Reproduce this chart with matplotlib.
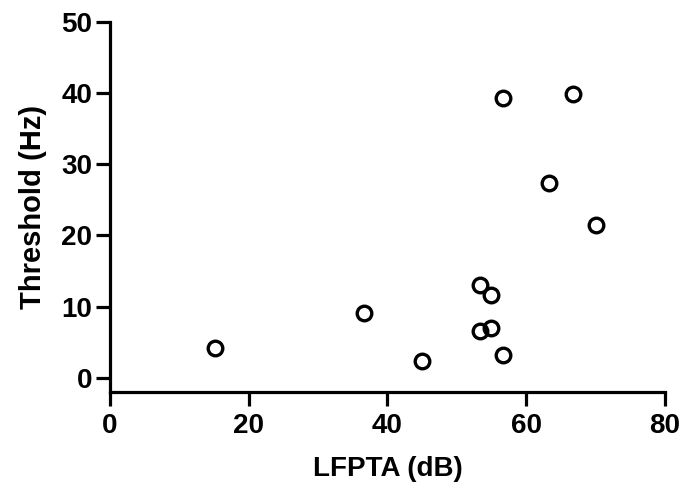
import matplotlib.pyplot as plt

plt.rcParams['font.family'] = ['Liberation Sans', 'DejaVu Sans']
plt.rcParams['font.weight'] = 'bold'

# LFPTA (dB) vs threshold (Hz)
lfpta = [15.1, 36.6, 45.0, 53.3, 53.3, 55.0, 55.0, 56.6, 56.6, 63.3, 66.7, 70.0]
threshold = [4.2, 9.1, 2.4, 13.0, 6.6, 11.6, 7.0, 3.2, 39.3, 27.3, 39.8, 21.5]

fig = plt.figure(figsize=(6.84, 4.91), dpi=100)
ax = fig.add_axes([0.161, 0.2016, 0.811, 0.7544])

ax.plot(lfpta, threshold, 'o', markersize=10.5, markerfacecolor='none',
        markeredgecolor='black', markeredgewidth=2.4, clip_on=False)

ax.set_xlim(0, 80)
ax.set_ylim(-2, 50)
ax.set_xticks([0, 20, 40, 60, 80])
ax.set_yticks([0, 10, 20, 30, 40, 50])

for s in ['top', 'right']:
    ax.spines[s].set_visible(False)
for s in ['left', 'bottom']:
    ax.spines[s].set_linewidth(2.3)

ax.tick_params(width=2.3, length=10, labelsize=20)
ax.tick_params(axis='x', pad=5)
ax.tick_params(axis='y', pad=3)
for lab in ax.get_xticklabels() + ax.get_yticklabels():
    lab.set_fontweight('bold')

ax.set_xlabel('LFPTA (dB)', fontsize=20, fontweight='bold', labelpad=12)
ax.set_ylabel('Threshold (Hz)', fontsize=21, fontweight='bold', labelpad=10)

fig.savefig('out.png', dpi=100)
